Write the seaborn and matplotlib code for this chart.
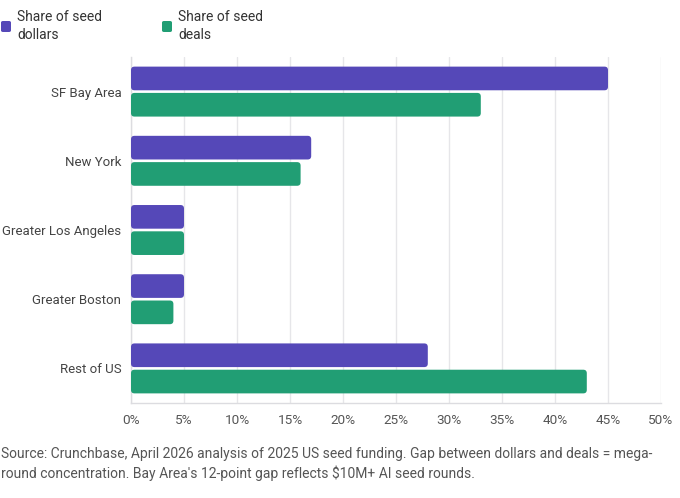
import matplotlib
matplotlib.use("Agg")
import matplotlib.pyplot as plt
import seaborn as sns
import pandas as pd
from matplotlib.patches import FancyBboxPatch
from matplotlib.ticker import FuncFormatter

regions = ["SF Bay Area", "New York", "Greater Los Angeles", "Greater Boston", "Rest of US"]
share_dollars = [45, 17, 5, 5, 28]
share_deals = [33, 16, 5, 4, 43]
series_names = ["Share of seed\ndollars", "Share of seed\ndeals"]
x_ticks = [0, 5, 10, 15, 20, 25, 30, 35, 40, 45, 50]
caption = ("Source: Crunchbase, April 2026 analysis of 2025 US seed funding. Gap between dollars and deals = mega-\n"
           "round concentration. Bay Area's 12-point gap reflects $10M+ AI seed rounds.")

colors = ["#5548B8", "#219E74"]

df = pd.DataFrame({
    "region": regions * 2,
    "value": share_dollars + share_deals,
    "series": [series_names[0]] * len(regions) + [series_names[1]] * len(regions),
})

sns.set_theme(style="white")
plt.rcParams["font.family"] = ["Roboto", "DejaVu Sans"]

fig = plt.figure(figsize=(6.8, 4.98), dpi=100)
ax = fig.add_axes([131 / 680, 1 - 403 / 498, (661 - 131) / 680, (403 - 57) / 498])

sns.barplot(data=df, y="region", x="value", hue="series", palette=colors,
            orient="h", width=0.76, gap=0.1, ax=ax, legend=False,
            order=regions, hue_order=series_names, saturation=1)

ax.set_xlim(0, 50)
ax.set_ylim(4.5, -0.5)

# round the bar corners
px_x = 50 / 530.0   # data units per pixel (x)
px_y = 5.0 / 346.0  # data units per pixel (y)
for p in list(ax.patches):
    x, y = p.get_x(), p.get_y()
    w, h = p.get_width(), p.get_height()
    fc = p.get_facecolor()
    p.remove()
    r = 3.5 * px_x
    fb = FancyBboxPatch((x, y), w, h,
                        boxstyle=f"round,pad=0,rounding_size={r}",
                        mutation_aspect=px_y / px_x,
                        facecolor=fc, edgecolor="none", zorder=3)
    ax.add_patch(fb)

ax.set_xticks(x_ticks)
ax.xaxis.set_major_formatter(FuncFormatter(lambda v, _: f"{v:.0f}%"))
ax.set_xlabel("")
ax.set_ylabel("")
ax.grid(axis="x", color="#E6E6E9", linewidth=1, zorder=0)
ax.set_axisbelow(True)
for s in ["top", "right"]:
    ax.spines[s].set_visible(False)
for s in ["left", "bottom"]:
    ax.spines[s].set_color("#DCDCE0")
    ax.spines[s].set_linewidth(1)
ax.tick_params(axis="y", length=0, labelsize=9.5, colors="#444444", pad=7)
ax.tick_params(axis="x", length=0, labelsize=9.7, colors="#555555", pad=8)

# legend
for i, (name, c) in enumerate(zip(series_names, colors)):
    lx = 1 / 680 + i * 161 / 680
    fig.patches.append(FancyBboxPatch((lx, 1 - 32 / 498), 10 / 680, 11 / 498,
                                      boxstyle="round,pad=0,rounding_size=0.003",
                                      transform=fig.transFigure, facecolor=c,
                                      edgecolor="none", figure=fig))
    fig.text(lx + 16 / 680, 1 - 26 / 498, name, fontsize=10, color="#333333",
             va="center", ha="left", linespacing=1.3)

fig.text(1 / 680, 1 - 464 / 498, caption, fontsize=10, color="#555555",
         va="center", ha="left", linespacing=1.3)

fig.savefig("out.png", dpi=100)
